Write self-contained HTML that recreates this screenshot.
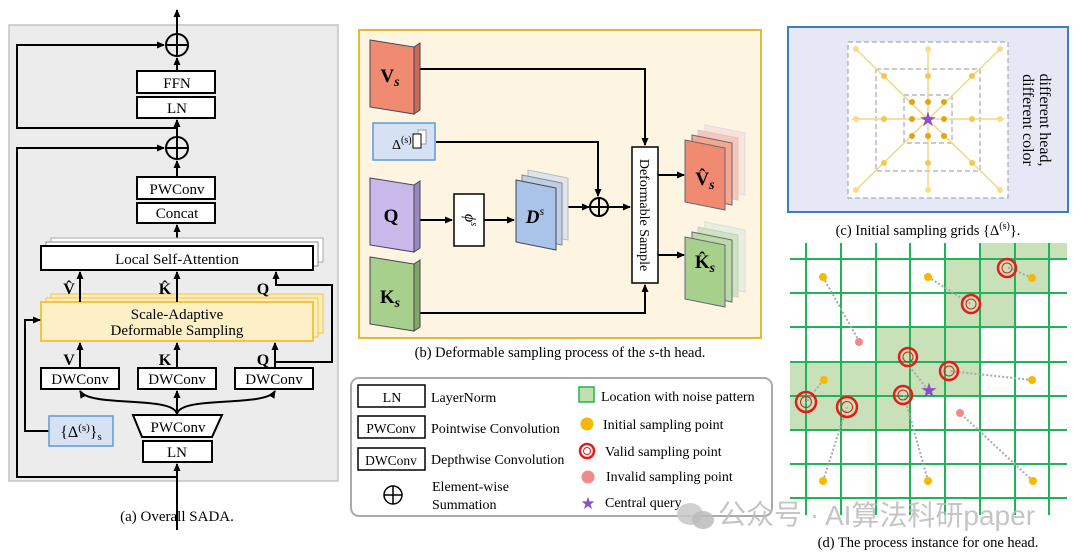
<!DOCTYPE html>
<html><head><meta charset="utf-8"><style>
body{margin:0;background:#fff}
svg{display:block;font-family:"Liberation Serif",serif}
</style></head><body>
<svg width="1080" height="558" viewBox="0 0 1080 558" xmlns="http://www.w3.org/2000/svg">
<defs>
<marker id="ar" markerWidth="8" markerHeight="8" refX="7" refY="4" orient="auto" markerUnits="userSpaceOnUse"><path d="M0,0.5 L8,4 L0,7.5z" fill="#000"/></marker>
</defs>
<!-- Panel a -->
<rect x="9" y="25" width="329" height="456" fill="#ececec" stroke="#c4c4c4" stroke-width="1.5"/>
<g stroke="#000" stroke-width="2" fill="none">
<line x1="177" y1="34" x2="177" y2="10" marker-end="url(#ar)"/>
<circle cx="177" cy="45" r="11"/><line x1="166" y1="45" x2="188" y2="45"/><line x1="177" y1="34" x2="177" y2="56"/>
<line x1="177" y1="71" x2="177" y2="58" marker-end="url(#ar)"/>
<circle cx="177" cy="148" r="11"/><line x1="166" y1="148" x2="188" y2="148"/><line x1="177" y1="137" x2="177" y2="159"/>
<line x1="177" y1="137" x2="177" y2="120" marker-end="url(#ar)"/>
<polyline points="177,128 17,128 17,45 164,45" marker-end="url(#ar)"/>
<polyline points="177,477 17,477 17,148 164,148" marker-end="url(#ar)"/>
<line x1="177" y1="177" x2="177" y2="161" marker-end="url(#ar)"/>
<line x1="177" y1="246" x2="177" y2="225" marker-end="url(#ar)"/>
<line x1="177" y1="530" x2="177" y2="464" marker-end="url(#ar)"/>
</g>
<g fill="#fff" stroke="#000" stroke-width="2">
<rect x="137" y="71" width="78" height="22"/><rect x="137" y="97" width="78" height="21"/>
<rect x="137" y="177" width="78" height="22"/><rect x="137" y="203" width="78" height="20"/>
<rect x="51" y="238" width="272" height="24" stroke="#aaa" stroke-width="1"/>
<rect x="46" y="242" width="272" height="24" stroke="#888" stroke-width="1"/>
<rect x="41" y="246" width="272" height="24"/>
</g>
<g fill="#fdeec0" stroke="#f5c242" stroke-width="2">
<rect x="51" y="294" width="272" height="39" stroke-width="1"/>
<rect x="46" y="298" width="272" height="39" stroke-width="1"/>
<rect x="41" y="302" width="272" height="39" fill="#fdefc6"/>
</g>
<g stroke="#000" stroke-width="2" fill="none">
<line x1="80" y1="302" x2="80" y2="272" marker-end="url(#ar)"/>
<line x1="177" y1="302" x2="177" y2="272" marker-end="url(#ar)"/>
<line x1="80" y1="368" x2="80" y2="343" marker-end="url(#ar)"/>
<line x1="177" y1="368" x2="177" y2="343" marker-end="url(#ar)"/>
<line x1="275" y1="368" x2="275" y2="343" marker-end="url(#ar)"/>
<polyline points="275,362 332,362 332,285 276,285 276,272" marker-end="url(#ar)"/>
<polyline points="49,431 25,431 25,320 40,320" marker-end="url(#ar)"/>
<path d="M177,415 C177,395 90,408 80,391" marker-end="url(#ar)"/>
<path d="M177,415 C177,395 265,408 275,391" marker-end="url(#ar)"/>
<line x1="177" y1="415" x2="177" y2="391" marker-end="url(#ar)"/>
</g>
<g fill="#fff" stroke="#000" stroke-width="2">
<rect x="41" y="368" width="78" height="21"/><rect x="138" y="368" width="78" height="21"/><rect x="235" y="368" width="78" height="21"/>
<polygon points="133,415 222,415 212,437 142,437"/>
<rect x="143" y="441" width="69" height="21"/>
</g>
<rect x="49" y="416" width="64" height="30" fill="#d6e2f3" stroke="#5b9bd5" stroke-width="1.5"/>
<g font-size="15" text-anchor="middle">
<text x="177" y="88">FFN</text><text x="177" y="113">LN</text>
<text x="177" y="194">PWConv</text><text x="177" y="218">Concat</text>
<text x="177" y="264">Local Self-Attention</text>
<text x="177" y="319">Scale-Adaptive</text><text x="177" y="335">Deformable Sampling</text>
<text x="80" y="384">DWConv</text><text x="177" y="384">DWConv</text><text x="274" y="384">DWConv</text>
<text x="178" y="432">PWConv</text><text x="177" y="457">LN</text>
<text x="81" y="437" font-size="16">{Δ<tspan font-size="11" dy="-6">(s)</tspan><tspan dy="6">}</tspan><tspan font-size="11" dy="3">s</tspan></text>
<text x="177" y="521">(a) Overall SADA.</text>
</g>
<g font-size="16" font-weight="bold" text-anchor="middle">
<text x="69" y="294">V̂</text><text x="165" y="294">K̂</text><text x="263" y="294">Q</text>
<text x="69" y="365">V</text><text x="165" y="365">K</text><text x="263" y="365">Q</text>
</g>
<!-- Panel b -->
<rect x="359" y="30" width="402" height="308" fill="#fdf5e1" stroke="#e8b830" stroke-width="2"/>
<g stroke="#000" stroke-width="2" fill="none">
<polyline points="414,69 645,69 645,145" marker-end="url(#ar)"/>
<polyline points="436,142 598,142 598,196" marker-end="url(#ar)"/>
<line x1="414" y1="220" x2="452" y2="220" marker-end="url(#ar)"/>
<line x1="484" y1="220" x2="514" y2="220" marker-end="url(#ar)"/>
<line x1="568" y1="207" x2="589" y2="207" marker-end="url(#ar)"/>
<line x1="609" y1="207" x2="630" y2="207" marker-end="url(#ar)"/>
<polyline points="414,313 645,313 645,285" marker-end="url(#ar)"/>
<line x1="658" y1="175" x2="684" y2="175" marker-end="url(#ar)"/>
<line x1="658" y1="255" x2="684" y2="255" marker-end="url(#ar)"/>
<circle cx="599" cy="207" r="9" fill="#fdf5e1"/><line x1="590" y1="207" x2="608" y2="207"/><line x1="599" y1="198" x2="599" y2="216"/>
</g>
<g stroke="#445" stroke-width="1">
<polygon points="414,47 420,43 420,110 414,114" fill="#c96a55"/><polygon points="370,40 414,47 414,114 370,107" fill="#f08a70"/>
<polygon points="414,185 420,181 420,248 414,252" fill="#9a88bf"/><polygon points="370,178 414,185 414,252 370,245" fill="#c9b8ea"/>
<polygon points="414,264 420,260 420,327 414,331" fill="#7fa866"/><polygon points="370,257 414,264 414,331 370,324" fill="#a8d08d"/>
<polygon points="528,170 568,178 568,240 528,232" fill="#dde4ee" stroke="#bbb"/>
<polygon points="522,175 562,183 562,245 522,237" fill="#bfcfe6" stroke="#888"/>
<polygon points="516,180 556,188 556,250 516,242" fill="#a9c4e8"/>
</g>
<rect x="373" y="123" width="62" height="37" fill="#d6e2f3" stroke="#5b9bd5" stroke-width="1.5"/>
<rect x="418" y="130" width="8" height="14" fill="#fff" stroke="#999"/><rect x="413" y="134" width="8" height="14" fill="#fff" stroke="#000"/>
<rect x="454" y="194" width="30" height="52" fill="#fff" stroke="#000" stroke-width="1.5"/>
<rect x="632" y="147" width="26" height="136" fill="#fff" stroke="#000" stroke-width="1.5"/>
<g stroke="#667" stroke-width="1">
<polygon points="705,125 745,133 745,195 705,187" fill="#fbe3db" stroke="#ddd"/>
<polygon points="698,130 738,138 738,200 698,192" fill="#f8c6b6" stroke="#ccc"/>
<polygon points="692,135 732,143 732,205 692,197" fill="#f4a891"/>
<polygon points="685,140 725,148 725,210 685,202" fill="#f08a70"/>
<polygon points="705,222 745,230 745,292 705,284" fill="#e6f0dc" stroke="#ddd"/>
<polygon points="698,227 738,235 738,297 698,289" fill="#cfe3bf" stroke="#ccc"/>
<polygon points="692,232 732,240 732,302 692,294" fill="#bcd9a8"/>
<polygon points="685,237 725,245 725,307 685,299" fill="#a8d08d"/>
</g>
<g font-weight="bold" font-size="19" text-anchor="middle">
<text x="390" y="82">V<tspan font-size="14" font-style="italic" dy="4">s</tspan></text>
<text x="391" y="222">Q</text>
<text x="390" y="303">K<tspan font-size="14" font-style="italic" dy="4">s</tspan></text>
<text x="535" y="223" font-style="italic">D<tspan font-size="12" font-weight="normal" dy="-8">s</tspan></text>
<text x="705" y="185">V̂<tspan font-size="14" font-style="italic" dy="4">s</tspan></text>
<text x="705" y="268">K̂<tspan font-size="14" font-style="italic" dy="4">s</tspan></text>
</g>
<text x="392" y="149" font-size="14">Δ<tspan font-size="10" dy="-6">(s)</tspan></text>
<text transform="translate(465,220) rotate(90)" font-size="16" font-style="italic" text-anchor="middle">ϕ<tspan font-size="10" dy="-6">s</tspan></text>
<text transform="translate(640,215) rotate(90)" font-size="14" text-anchor="middle">Deformable Sample</text>
<text x="560" y="357" font-size="14.5" text-anchor="middle">(b) Deformable sampling process of the <tspan font-style="italic">s</tspan>-th head.</text>
<!-- legend -->
<rect x="351" y="378" width="421" height="138" rx="8" fill="#fff" stroke="#aaa" stroke-width="2"/>
<g fill="#fff" stroke="#000" stroke-width="1.5">
<rect x="358" y="385" width="67" height="22"/><rect x="358" y="416" width="67" height="22"/><rect x="358" y="448" width="67" height="22"/>
<circle cx="393" cy="495" r="9"/>
</g>
<g stroke="#000" stroke-width="1.5"><line x1="384" y1="495" x2="402" y2="495"/><line x1="393" y1="486" x2="393" y2="504"/></g>
<g font-size="14">
<text x="392" y="402" text-anchor="middle">LN</text>
<text x="391" y="433" text-anchor="middle" font-size="13.5">PWConv</text>
<text x="391" y="465" text-anchor="middle" font-size="13.5">DWConv</text>
<text x="431" y="402">LayerNorm</text>
<text x="431" y="433">Pointwise Convolution</text>
<text x="431" y="464">Depthwise Convolution</text>
<text x="432" y="491">Element-wise</text><text x="432" y="509">Summation</text>
<text x="601" y="401">Location with noise pattern</text>
<text x="603" y="429">Initial sampling point</text>
<text x="605" y="456">Valid sampling point</text>
<text x="606" y="481">Invalid sampling point</text>
<text x="605" y="507">Central query</text>
</g>
<rect x="579" y="387" width="15" height="15" fill="#c2dfb0" stroke="#1fb35a" stroke-width="1.5"/>
<circle cx="587" cy="424" r="6.5" fill="#f6b800"/>
<circle cx="587" cy="451" r="7" fill="none" stroke="#e51b1b" stroke-width="2.5"/><circle cx="587" cy="451" r="3.5" fill="none" stroke="#e51b1b" stroke-width="1"/>
<circle cx="588" cy="477" r="6.5" fill="#f28a8a"/>
<text x="588" y="509" font-size="17" fill="#8b4fc9" text-anchor="middle">★</text>
<!-- Panel c -->
<rect x="788" y="27" width="280" height="185" fill="#e6e8f5" stroke="#3d7cc9" stroke-width="2"/>
<rect x="848" y="42" width="160" height="156" fill="#fff"/>
<g fill="none" stroke="#aaa" stroke-dasharray="5,3" stroke-width="1.2">
<rect x="848" y="42" width="160" height="156"/><rect x="876" y="69" width="104" height="102"/><rect x="904" y="95" width="48" height="48"/>
</g>
<g stroke="#f5d685" stroke-width="1.5">
<line x1="856" y1="49" x2="1000" y2="190"/><line x1="1000" y1="49" x2="856" y2="190"/>
<line x1="928" y1="49" x2="928" y2="190"/><line x1="852" y1="119" x2="1004" y2="119"/>
</g>
<g fill="#f9dc8a">
<circle cx="856" cy="49" r="3"/><circle cx="928" cy="49" r="3"/><circle cx="1000" cy="49" r="3"/>
<circle cx="856" cy="119" r="3"/><circle cx="1000" cy="119" r="3"/>
<circle cx="856" cy="190" r="3"/><circle cx="928" cy="190" r="3"/><circle cx="1000" cy="190" r="3"/>
</g>
<g fill="#f5c650">
<circle cx="884" cy="76" r="3"/><circle cx="928" cy="76" r="3"/><circle cx="972" cy="76" r="3"/>
<circle cx="884" cy="119" r="3"/><circle cx="972" cy="119" r="3"/>
<circle cx="884" cy="163" r="3"/><circle cx="928" cy="163" r="3"/><circle cx="972" cy="163" r="3"/>
</g>
<g fill="#dca710">
<circle cx="912" cy="102" r="3"/><circle cx="928" cy="102" r="3"/><circle cx="944" cy="102" r="3"/>
<circle cx="912" cy="119" r="3"/><circle cx="944" cy="119" r="3"/>
<circle cx="912" cy="136" r="3"/><circle cx="928" cy="136" r="3"/><circle cx="944" cy="136" r="3"/>
</g>
<text x="928" y="126" font-size="20" fill="#8b4fc9" text-anchor="middle">★</text>
<text transform="translate(1040,120) rotate(90)" font-size="16" text-anchor="middle">different head,</text>
<text transform="translate(1023,120) rotate(90)" font-size="16" text-anchor="middle">different color</text>
<text x="928" y="235" font-size="14.5" text-anchor="middle">(c) Initial sampling grids {Δ<tspan font-size="10" dy="-6">(s)</tspan><tspan dy="6">}.</tspan></text>
<!-- Panel d -->
<g fill="#c8e1b8">
<rect x="980" y="243" width="87" height="16"/><rect x="945" y="259" width="105" height="34"/>
<rect x="945" y="293" width="70" height="34"/>
<rect x="876" y="327" width="104" height="35"/>
<rect x="790" y="362" width="190" height="34"/>
<rect x="790" y="396" width="120" height="34"/>
</g>
<g stroke="#1fb35a" stroke-width="2">
<line x1="806" y1="243" x2="806" y2="515"/><line x1="841" y1="243" x2="841" y2="515"/><line x1="876" y1="243" x2="876" y2="515"/><line x1="910" y1="243" x2="910" y2="515"/><line x1="945" y1="243" x2="945" y2="515"/><line x1="980" y1="243" x2="980" y2="515"/><line x1="1015" y1="243" x2="1015" y2="515"/><line x1="1049" y1="243" x2="1049" y2="515"/>
<line x1="790" y1="259" x2="1067" y2="259"/><line x1="790" y1="293" x2="1067" y2="293"/><line x1="790" y1="327" x2="1067" y2="327"/><line x1="790" y1="362" x2="1067" y2="362"/><line x1="790" y1="396" x2="1067" y2="396"/><line x1="790" y1="430" x2="1067" y2="430"/><line x1="790" y1="464" x2="1067" y2="464"/><line x1="790" y1="498" x2="1067" y2="498"/>
</g>
<g stroke="#aaa" stroke-width="2" stroke-dasharray="2,2">
<line x1="823" y1="277" x2="859" y2="341"/><line x1="928" y1="277" x2="971" y2="304"/><line x1="1032" y1="278" x2="1007" y2="267"/>
<line x1="823" y1="380" x2="806" y2="403"/><line x1="1032" y1="380" x2="949" y2="371"/>
<line x1="823" y1="481" x2="847" y2="407"/><line x1="928" y1="481" x2="904" y2="395"/><line x1="1033" y1="481" x2="960" y2="413"/>
<line x1="928" y1="390" x2="910" y2="367"/>
</g>
<g fill="#f6b800">
<circle cx="823" cy="277" r="4"/><circle cx="928" cy="277" r="4"/><circle cx="1032" cy="278" r="4"/>
<circle cx="824" cy="380" r="4"/><circle cx="1032" cy="380" r="4"/>
<circle cx="823" cy="481" r="4"/><circle cx="928" cy="481" r="4"/><circle cx="1033" cy="481" r="4"/>
</g>
<circle cx="859" cy="342" r="4" fill="#f28a8a"/><circle cx="960" cy="413" r="4" fill="#f28a8a"/>
<g fill="none" stroke="#e51b1b">
<g stroke-width="2.5">
<circle cx="1007" cy="268" r="9"/><circle cx="971" cy="304" r="9"/><circle cx="908" cy="357" r="9"/><circle cx="949" cy="371" r="9"/><circle cx="903" cy="395" r="9"/><circle cx="806" cy="402" r="10"/><circle cx="847" cy="407" r="10"/>
</g>
<g stroke-width="1">
<circle cx="1007" cy="268" r="5"/><circle cx="971" cy="304" r="5"/><circle cx="908" cy="357" r="5"/><circle cx="949" cy="371" r="5"/><circle cx="903" cy="395" r="5"/><circle cx="806" cy="402" r="5.5"/><circle cx="847" cy="407" r="5.5"/>
</g>
</g>
<text x="929" y="397" font-size="20" fill="#8b4fc9" text-anchor="middle">★</text>
<ellipse cx="690" cy="514" rx="13" ry="11" fill="#c8c8c8" opacity="0.85"/>
<ellipse cx="703" cy="520" rx="11" ry="9" fill="#bbb" opacity="0.85"/>
<text x="718" y="524" font-size="28" fill="#bbb" font-family="Liberation Sans, Noto Sans CJK SC, sans-serif" opacity="0.85">公众号 ·</text>
<text x="930" y="525" font-size="28" fill="#bbb" font-family="Liberation Sans, Noto Sans CJK SC, sans-serif" text-anchor="middle" opacity="0.85">AI算法科研paper</text>
<text x="928" y="547" font-size="14.5" text-anchor="middle">(d) The process instance for one head.</text>
</svg>
</body></html>
